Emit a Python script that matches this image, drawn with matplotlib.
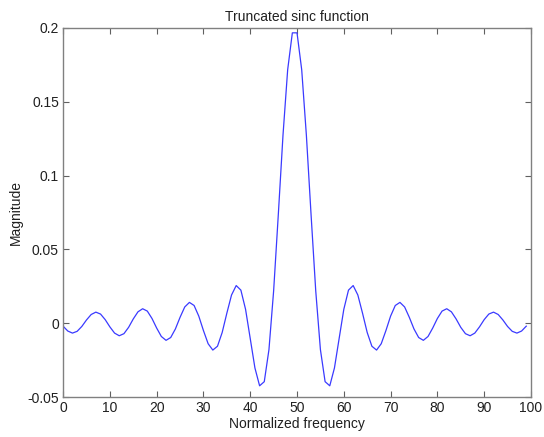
import numpy as np
import matplotlib
matplotlib.use('Agg')
import matplotlib.pyplot as plt
from matplotlib.ticker import FuncFormatter

plt.rcParams['font.family'] = ['Liberation Sans', 'DejaVu Sans']

# sample index 0..99 and magnitude
n = list(range(100))
magnitude = [
    -0.0020, -0.0053, -0.0067, -0.0055, -0.0022, 0.0022, 0.0059, 0.0075, 0.0062, 0.0024,
    -0.0025, -0.0067, -0.0085, -0.0071, -0.0028, 0.0029, 0.0077, 0.0098, 0.0082, 0.0032,
    -0.0033, -0.0090, -0.0116, -0.0097, -0.0039, 0.0040, 0.0110, 0.0141, 0.0120, 0.0048,
    -0.0050, -0.0139, -0.0182, -0.0156, -0.0063, 0.0068, 0.0191, 0.0255, 0.0224, 0.0094,
    -0.0104, -0.0303, -0.0424, -0.0396, -0.0179, 0.0219, 0.0736, 0.1273, 0.1717, 0.1967,
    0.1967, 0.1717, 0.1273, 0.0736, 0.0219, -0.0179, -0.0396, -0.0424, -0.0303, -0.0104,
    0.0094, 0.0224, 0.0255, 0.0191, 0.0068, -0.0063, -0.0156, -0.0182, -0.0139, -0.0050,
    0.0048, 0.0120, 0.0141, 0.0110, 0.0040, -0.0039, -0.0097, -0.0116, -0.0090, -0.0033,
    0.0032, 0.0082, 0.0098, 0.0077, 0.0029, -0.0028, -0.0071, -0.0085, -0.0067, -0.0025,
    0.0024, 0.0062, 0.0075, 0.0059, 0.0022, -0.0022, -0.0055, -0.0067, -0.0053, -0.0020,
]

x_ticks = [0, 10, 20, 30, 40, 50, 60, 70, 80, 90, 100]
y_ticks = [-0.05, 0, 0.05, 0.1, 0.15, 0.2]

fig = plt.figure(figsize=(5.44, 4.37), dpi=100)
ax = fig.add_axes([0.116, 0.0915, 0.860, 0.8445])

ax.plot(n, magnitude, color='#3a3aff', linewidth=0.9)

ax.set_xlim(0, 100)
ax.set_ylim(-0.05, 0.2)
ax.set_xticks(x_ticks)
ax.set_yticks(y_ticks)
ax.yaxis.set_major_formatter(FuncFormatter(lambda v, p: '%g' % round(v, 4)))

# matlab look: ticks inside, on all four sides
ax.tick_params(direction='in', top=True, right=True, length=4, width=0.8,
               color='#606060', labelsize=10, labelcolor='#202020', pad=3)
for s in ax.spines.values():
    s.set_color('#808080')
    s.set_linewidth(1.0)

ax.set_xlabel('Normalized frequency', fontsize=10, color='#202020', labelpad=1)
ax.set_ylabel('Magnitude', fontsize=10, color='#202020', labelpad=3)
ax.set_title('Truncated sinc function', fontsize=10, color='#202020', pad=5)

plt.savefig('out.png', dpi=100)
